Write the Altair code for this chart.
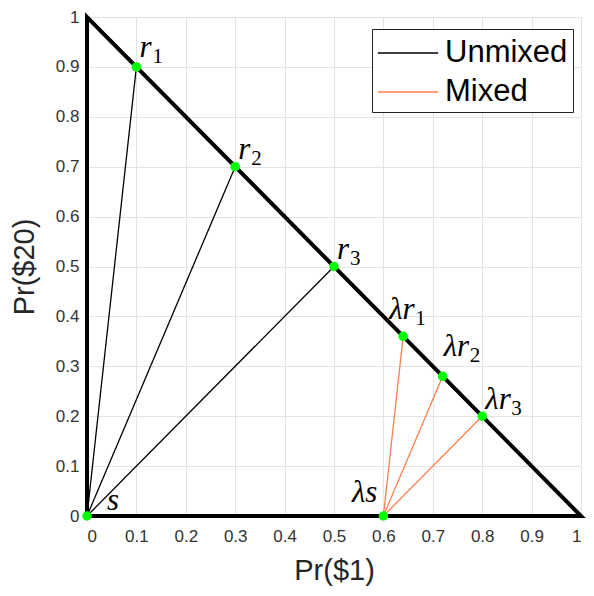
import altair as alt
import pandas as pd

# ---- data ----
tick_values = [0, 0.1, 0.2, 0.3, 0.4, 0.5, 0.6, 0.7, 0.8, 0.9, 1]

tri_x = [0.0, 0.0, 1.0, 0.0]
tri_y = [0.0, 1.0, 0.0, 0.0]

s_x, s_y = 0.0, 0.0
r_x = [0.1, 0.3, 0.5]
r_y = [0.9, 0.7, 0.5]

ls_x, ls_y = 0.6, 0.0
lr_x = [0.64, 0.72, 0.8]
lr_y = [0.36, 0.28, 0.2]

series_names = ["Unmixed", "Mixed"]
series_colors = ["#000000", "#ff7f50"]

label_names = ["r1", "r2", "r3", "s", "lr1", "lr2", "lr3", "ls"]
label_main = ["r", "r", "r", "s", "λr", "λr", "λr", "λs"]
label_sub = ["1", "2", "3", "", "1", "2", "3", ""]
label_x = r_x + [s_x] + lr_x + [ls_x]
label_y = r_y + [s_y] + lr_y + [ls_y]

# ---- tables ----
tri_df = pd.DataFrame({"x": tri_x, "y": tri_y, "o": list(range(len(tri_x)))})

seg_rows = []
for i in range(3):
    seg_rows.append({"x": s_x, "y": s_y, "seg": f"u{i}", "series": "Unmixed", "o": 0})
    seg_rows.append({"x": r_x[i], "y": r_y[i], "seg": f"u{i}", "series": "Unmixed", "o": 1})
for i in range(3):
    seg_rows.append({"x": ls_x, "y": ls_y, "seg": f"m{i}", "series": "Mixed", "o": 0})
    seg_rows.append({"x": lr_x[i], "y": lr_y[i], "seg": f"m{i}", "series": "Mixed", "o": 1})
seg_df = pd.DataFrame(seg_rows)

lab_df = pd.DataFrame({"name": label_names, "main": label_main, "sub": label_sub,
                       "x": label_x, "y": label_y})

# ---- scales ----
xs = alt.Scale(domain=[0, 1], nice=False, zero=False)
ys = alt.Scale(domain=[0, 1], nice=False, zero=False)

x_axis = alt.Axis(values=tick_values, format=".1~f", title="Pr($1)", grid=True,
                  domain=False, ticks=False, labelPadding=12, titlePadding=12)
y_axis = alt.Axis(values=tick_values, format=".1~f", title="Pr($20)", grid=True,
                  domain=False, ticks=False, labelPadding=8, titlePadding=16)

base_tri = alt.Chart(tri_df).mark_line(color="black", strokeWidth=4, strokeCap="square").encode(
    x=alt.X("x:Q", scale=xs, axis=x_axis),
    y=alt.Y("y:Q", scale=ys, axis=y_axis),
    order="o:Q",
)

segs = alt.Chart(seg_df).mark_line(strokeWidth=1.3).encode(
    x=alt.X("x:Q", scale=xs),
    y=alt.Y("y:Q", scale=ys),
    detail="seg:N",
    order="o:Q",
    color=alt.Color("series:N", scale=alt.Scale(domain=series_names, range=series_colors),
                    legend=alt.Legend(title=None, orient="none", legendX=285, legendY=12,
                                      symbolType="M-1.67,0H1.67", symbolSize=1300,
                                      symbolOffset=12,
                                      symbolStrokeWidth=1.5, labelFontSize=31,
                                      labelFont="Liberation Sans", labelColor="black",
                                      strokeColor="#222222", fillColor="white",
                                      padding=5, rowPadding=5, labelOffset=18,
                                      labelLimit=300)),
)

pts = alt.Chart(lab_df).mark_circle(color="#00ff00", opacity=1, size=90).encode(
    x=alt.X("x:Q", scale=xs),
    y=alt.Y("y:Q", scale=ys),
)

# label offsets (style): main dx, dy, align; subscript extra offset
offsets = {
    "r1": (3, -10, "left"),
    "r2": (3, -8, "left"),
    "r3": (3, -8, "left"),
    "s": (20, -6, "left"),
    "lr1": (-14, -17, "left"),
    "lr2": (1, -20, "left"),
    "lr3": (3, -7, "left"),
    "ls": (-6, -14, "right"),
}
sub_shift = {"r": 13, "λr": 26, "s": 0, "λs": 0}

label_layers = []
for name, main, sub in zip(label_names, label_main, label_sub):
    dx, dy, align = offsets[name]
    label_layers.append(
        alt.Chart(lab_df).transform_filter(alt.datum.name == name).mark_text(
            font="Liberation Serif", fontStyle="italic", fontSize=31, color="black",
            align=align, baseline="alphabetic", dx=dx, dy=dy,
        ).encode(x=alt.X("x:Q", scale=xs), y=alt.Y("y:Q", scale=ys), text="main:N")
    )
    if sub:
        label_layers.append(
            alt.Chart(lab_df).transform_filter(alt.datum.name == name).mark_text(
                font="Liberation Serif", fontSize=21, color="black",
                align="left", baseline="alphabetic", dx=dx + sub_shift[main], dy=dy + 6,
            ).encode(x=alt.X("x:Q", scale=xs), y=alt.Y("y:Q", scale=ys), text="sub:N")
        )

chart = alt.layer(base_tri, segs, pts, *label_layers).properties(
    width=494, height=499,
    autosize=alt.AutoSizeParams(type="none"),
    padding={"left": 79, "top": 9, "right": 5, "bottom": 71},
).configure_view(strokeWidth=0).configure_axis(
    labelFont="Liberation Sans", labelFontSize=17, labelColor="#333333",
    titleFont="Liberation Sans", titleFontSize=29, titleFontWeight="normal", titleColor="#262626",
    gridColor="#e3e3e3", gridWidth=1,
)

chart.save("out.html", embed_options={"renderer": "svg", "actions": False})
